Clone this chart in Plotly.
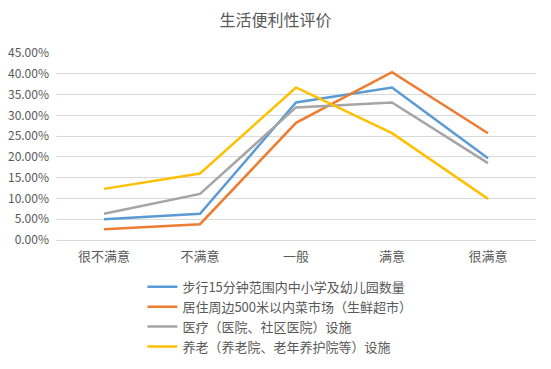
import plotly.graph_objects as go

categories = ["很不满意", "不满意", "一般", "满意", "很满意"]
series_names = [
    "步行15分钟范围内中小学及幼儿园数量",
    "居住周边500米以内菜市场（生鲜超市）",
    "医疗（医院、社区医院）设施",
    "养老（养老院、老年养护院等）设施",
]
walk_school = [5.0, 6.3, 33.1, 36.7, 19.7]
market = [2.6, 3.8, 28.2, 40.4, 25.7]
medical = [6.3, 11.1, 31.9, 33.1, 18.5]
elderly = [12.3, 16.0, 36.7, 25.7, 9.9]
y_ticks = [0, 5, 10, 15, 20, 25, 30, 35, 40, 45]
y_tick_labels = [f"{v:.2f}%" for v in y_ticks]

colors = ["#5B9BD5", "#ED7D31", "#A5A5A5", "#FFC000"]
font_family = "Noto Sans CJK SC, Noto Sans, sans-serif"

fig = go.Figure()
for name, vals, c in zip(series_names, [walk_school, market, medical, elderly], colors):
    fig.add_trace(go.Scatter(x=categories, y=vals, mode="lines", name=name,
                             line=dict(color=c, width=2.5)))

fig.update_layout(
    width=551, height=369,
    margin=dict(l=56, r=15, t=53, b=129, autoexpand=False),
    paper_bgcolor="white", plot_bgcolor="white",
    title=dict(text="生活便利性评价", x=0.5, xanchor="center", y=1 - 20 / 369, yanchor="middle",
               font=dict(size=16, color="#595959", family=font_family)),
    font=dict(family=font_family, color="#595959", size=11),
    showlegend=True,
    legend=dict(orientation="v", x=0.18, xanchor="left", y=-0.17, yanchor="top",
                font=dict(size=13, color="#595959"), tracegroupgap=0,
                bgcolor="rgba(0,0,0,0)"),
    xaxis=dict(type="category", showgrid=False, showline=True, linecolor="#D9D9D9",
               linewidth=1, ticks="", tickfont=dict(size=13, color="#595959"),
               range=[-0.5, 4.5], automargin=False, ticklabelstandoff=4),
    yaxis=dict(range=[0, 45], tickvals=y_ticks, ticktext=y_tick_labels,
               showgrid=True, gridcolor="#D9D9D9", gridwidth=1, zeroline=False,
               showline=False, ticks="", tickfont=dict(size=12, color="#595959"),
               automargin=False, ticklabelstandoff=6),
)

fig.write_html("out.html", config={"displayModeBar": False},
               post_script="document.body.style.margin='0';")
